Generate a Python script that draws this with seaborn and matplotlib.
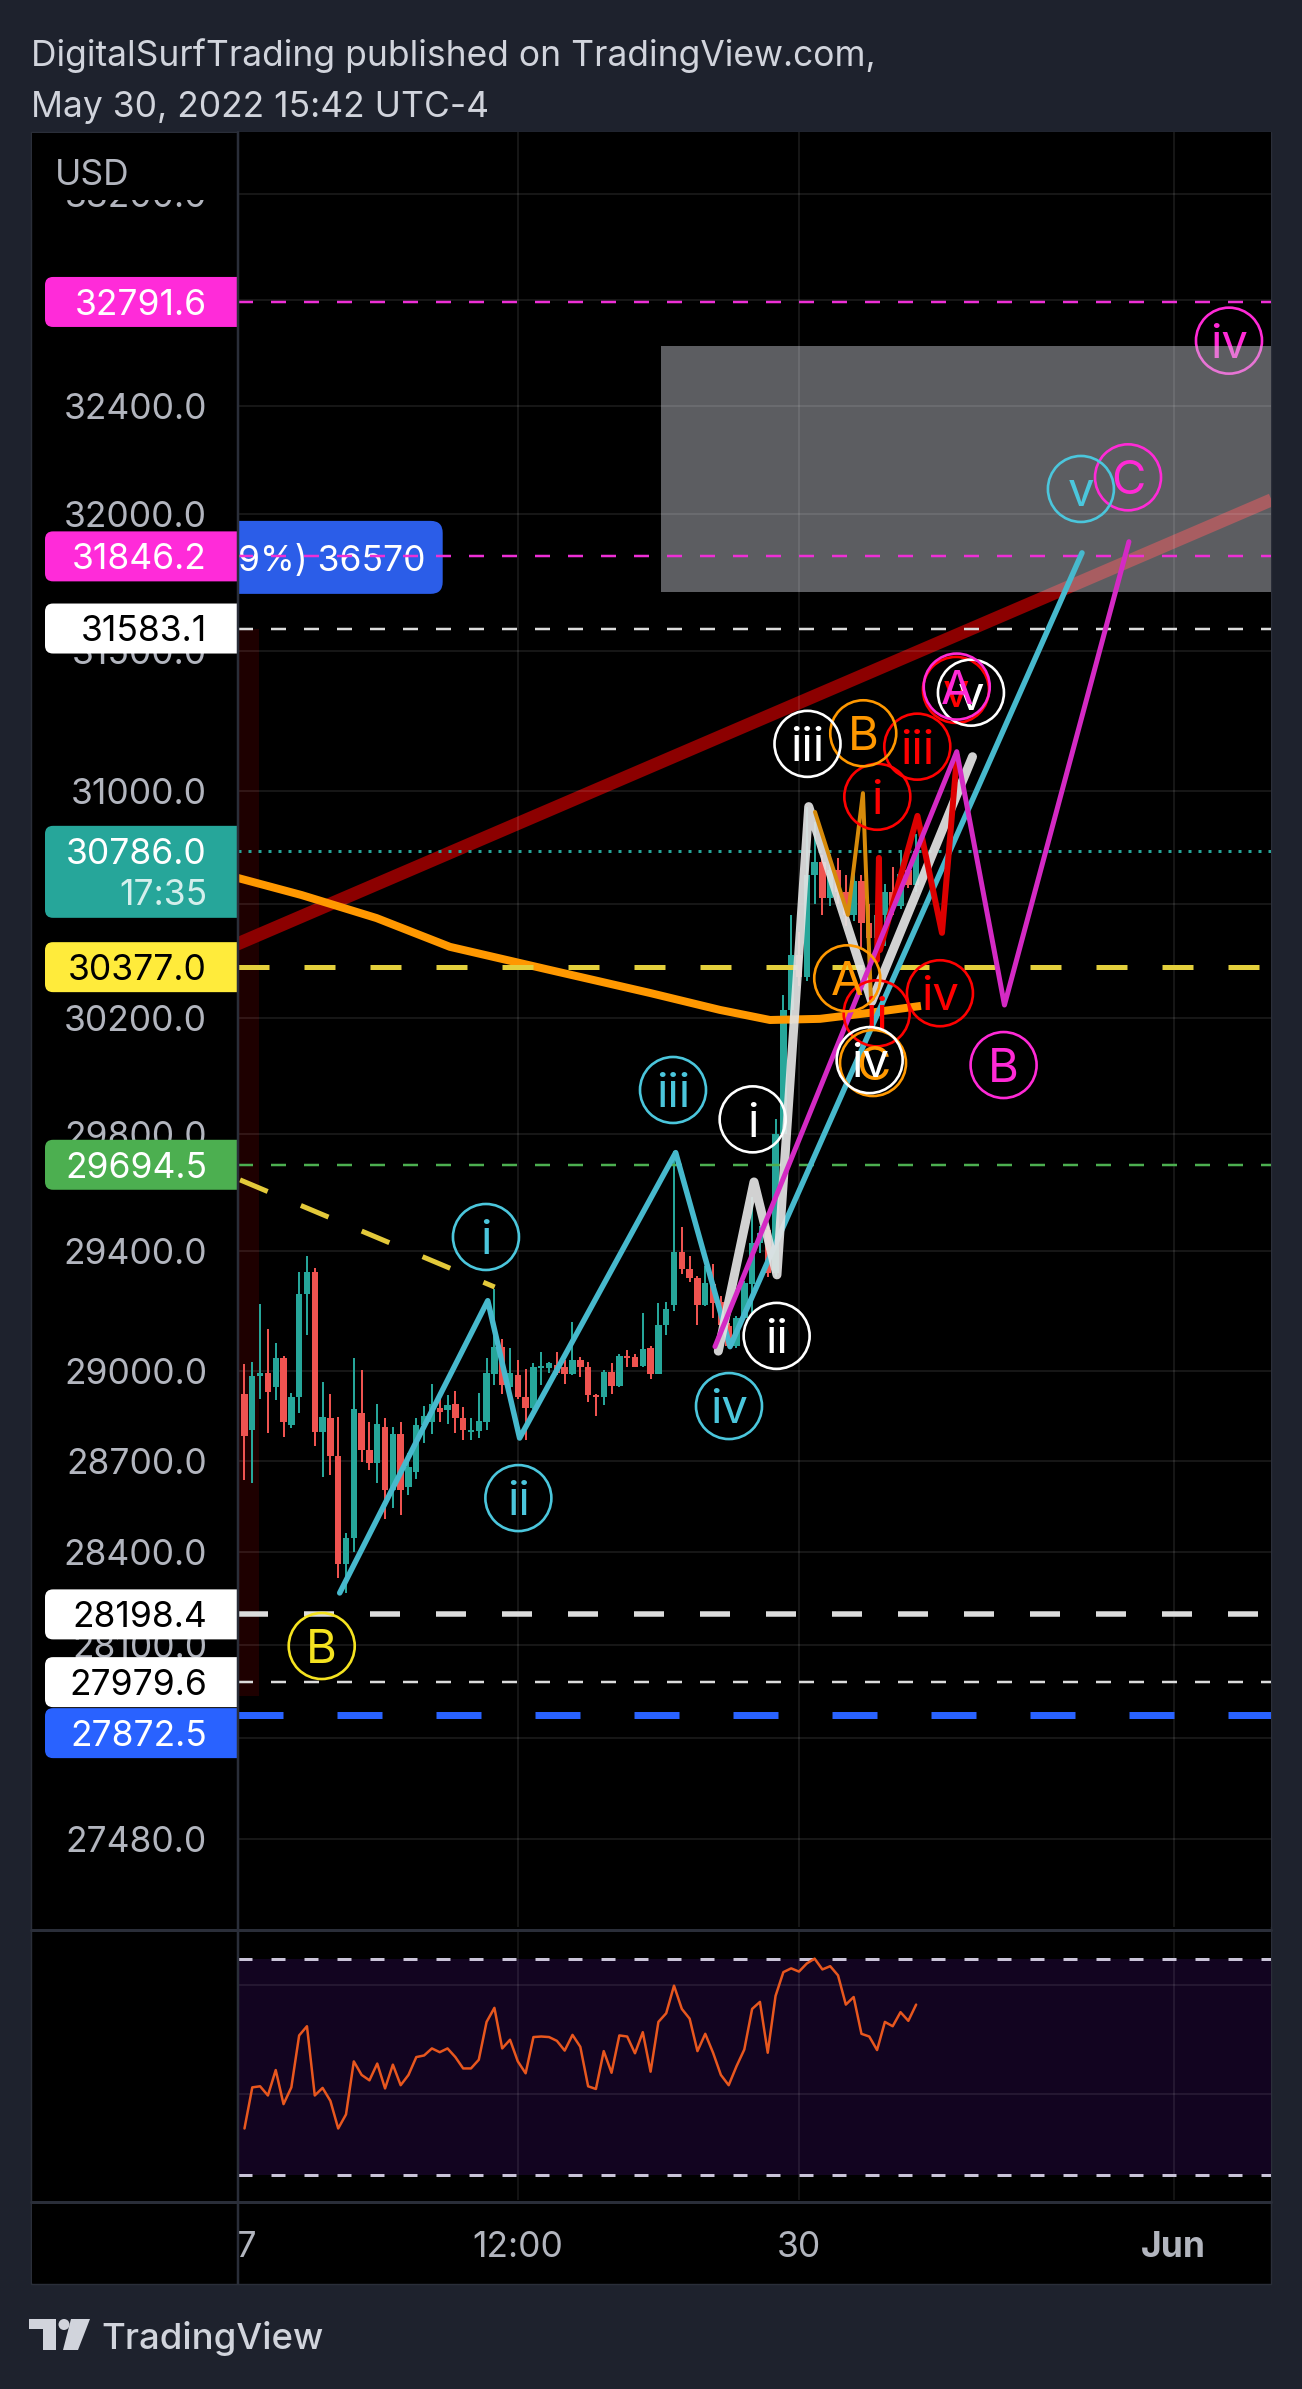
import numpy as np
import pandas as pd
import matplotlib
matplotlib.use("Agg")
import matplotlib.pyplot as plt
from matplotlib.patches import Rectangle, FancyBboxPatch, Circle, Polygon
from matplotlib.transforms import IdentityTransform, Bbox, blended_transform_factory
from matplotlib.lines import Line2D
from matplotlib.ticker import FixedLocator, NullLocator, FuncFormatter
import seaborn as sns

sns.set_theme(style="dark")
plt.rcParams['font.family'] = ['Inter', 'DejaVu Sans']
plt.rcParams['lines.scale_dashes'] = False
plt.rcParams['axes.unicode_minus'] = False

# ---------------- data ----------------
title_lines = ["DigitalSurfTrading published on TradingView.com,", "May 30, 2022 15:42 UTC-4"]
currency = "USD"
brand = "TradingView"

# hourly bars, x = hours after May 27 00:00
bar_hours = list(range(1, 88))
opens = [28922, 28802, 28983, 28991, 28946, 29041, 28819, 28911, 29257, 29330,
         28795, 28843, 28715, 28362, 28448, 28860, 28735, 28692, 28811, 28605,
         28790, 28614, 28665, 28818, 28829, 28874, 28869, 28888, 28843, 28796,
         28799, 28829, 28989, 29078, 28946, 28985, 28912, 28875, 29008, 29008,
         29019, 29011, 28988, 29036, 29013, 28920, 28912, 28994, 28948, 29050,
         29047, 29016, 29075, 28989, 29151, 29218, 29397, 29340, 29312, 29218,
         29290, 29229, 29148, 29081, 29177, 29290, 29428, 29473, 29327, 29800,
         30229, 30420, 30344, 30700, 30746, 30620, 30720, 30640, 30560, 30680,
         30530, 30480, 30560, 30640, 30590, 30720, 30665]
highs = [29022, 29028, 29224, 29138, 29093, 29050, 28927, 29330, 29386, 29343,
         28961, 28922, 28847, 28462, 29042, 29002, 28830, 28888, 28841, 28814,
         28828, 28726, 28841, 28883, 28955, 28916, 28918, 28931, 28880, 28843,
         28925, 29041, 29272, 29104, 29075, 29036, 29004, 29025, 29062, 29030,
         29061, 29036, 29162, 29047, 29030, 28923, 29002, 29025, 29056, 29070,
         29056, 29194, 29083, 29227, 29230, 29741, 29484, 29383, 29318, 29352,
         29358, 29250, 29160, 29182, 29300, 29586, 29485, 29485, 29850, 30281,
         30560, 30500, 30940, 30890, 30770, 30775, 30760, 30700, 30720, 30700,
         30600, 30600, 30670, 30730, 30790, 30730, 30847]
lows = [28638, 28627, 28905, 28793, 28903, 28780, 28810, 28860, 29120, 28751,
        28647, 28653, 28315, 28267, 28402, 28698, 28671, 28627, 28510, 28546,
        28524, 28589, 28640, 28760, 28788, 28829, 28823, 28793, 28769, 28769,
        28775, 28804, 28953, 28922, 28912, 28907, 28768, 28873, 28952, 28993,
        28985, 28957, 28985, 28980, 28895, 28848, 28884, 28923, 28946, 29011,
        29011, 29011, 28971, 28989, 29120, 29199, 29324, 29298, 29151, 29216,
        29177, 29137, 29075, 29075, 29170, 29192, 29395, 29315, 29315, 29780,
        30180, 30310, 30330, 30600, 30560, 30590, 30600, 30520, 30540, 30440,
        30360, 30400, 30450, 30560, 30580, 30655, 30640]
closes = [28782, 28983, 28991, 28930, 29041, 28829, 28911, 29257, 29330, 28795,
          28847, 28715, 28362, 28448, 28871, 28735, 28692, 28822, 28605, 28790,
          28603, 28679, 28818, 28849, 28888, 28862, 28885, 28841, 28802, 28802,
          28832, 28992, 29078, 28953, 28991, 28912, 28875, 29013, 29013, 29025,
          28991, 28989, 29036, 29011, 28918, 28912, 28997, 28948, 29050, 29042,
          29013, 29073, 28989, 29154, 29207, 29397, 29340, 29312, 29218, 29293,
          29227, 29154, 29081, 29177, 29293, 29428, 29462, 29327, 29800, 30229,
          30420, 30344, 30700, 30746, 30620, 30720, 30640, 30560, 30680, 30530,
          30480, 30560, 30640, 30590, 30705, 30665, 30786]
rsi_values = [38.6, 46.2, 46.4, 44.7, 49.4, 43.1, 46.2, 55.8, 57.5, 44.7,
              46.1, 43.7, 38.6, 41.2, 51.0, 48.5, 47.5, 50.6, 46.0, 50.4,
              46.6, 48.5, 51.8, 52.1, 53.4, 52.7, 53.4, 51.8, 49.7, 49.7,
              51.3, 58.3, 60.9, 53.4, 55.0, 51.0, 48.8, 55.5, 55.6, 55.5,
              54.8, 53.0, 55.9, 53.7, 46.4, 45.9, 52.9, 48.9, 55.8, 55.6,
              52.5, 56.4, 49.1, 58.3, 59.9, 65.0, 60.7, 58.9, 52.9, 56.1,
              52.6, 48.5, 46.6, 50.1, 53.2, 60.7, 62.0, 52.6, 63.1, 67.5,
              68.2, 67.6, 69.1, 70.0, 68.0, 68.6, 66.9, 61.5, 62.9, 56.1,
              55.6, 53.1, 58.3, 57.5, 60.1, 58.5, 61.5]

price_ticks = [33200, 32800, 32400, 32000, 31500, 31000, 30600, 30200, 29800,
               29400, 29000, 28700, 28400, 28100, 27800, 27480]
time_ticks = [0, 36, 72, 120]
time_labels = ["27", "12:00", "30", "Jun"]
rsi_bands = [70, 30]
rsi_grid = [65.1, 45.0]

level_values = [32791.6, 31846.2, 31583.1, 30786.0, 30377.0, 29694.5, 28198.4, 27979.6, 27872.5]
countdown = "17:35"
measure_text = "9%) 36570"

ema_hours = [0.17, 8.3, 17.9, 27.31, 40.12, 52.92, 61.88, 68.29, 74.69, 81.09, 87.62]
ema_values = [30690, 30630, 30549, 30448, 30367, 30287, 30228, 30193, 30197, 30218, 30242]

trend_hours = [0.0, 132.5]
trend_prices = [30457, 32054]
yellow_trend_hours = [0.43, 33.04]
yellow_trend_prices = [29643, 29280]

zone_hours = [54.33, 140.0]
zone_prices = [31716, 32626]
session_hours = [-3.0, 2.86]
session_prices = [27935, 31583.1]

cyan_wave_hours = [13.19, 32.15, 36.23, 56.21, 63.17, 108.24]
cyan_wave_prices = [28268, 29234, 28776, 29736, 29080, 31859]
white_wave_hours = [61.67, 66.24, 69.18, 73.25, 81.32, 94.22]
white_wave_prices = [29065, 29636, 29321, 30943, 30257, 31121]
magenta_wave_hours = [61.24, 92.2, 98.31, 114.25]
magenta_wave_prices = [29080, 31139, 30245, 31900]
orange_wave_hours = [74.05, 78.27, 80.19, 81.22]
orange_wave_prices = [30924, 30560, 30991, 30263]
red_wave_hours = [81.99, 82.24, 82.37, 87.17, 90.31, 92.23]
red_wave_prices = [30402, 30761, 30437, 30910, 30497, 31124]

cyan_labels = [("i", 31.92, 29449), ("ii", 36.07, 28578), ("iii", 55.87, 29951),
               ("iv", 63.04, 28882), ("v", 108.1, 32094)]
white_labels = [("i", 66.07, 29850), ("ii", 69.14, 29116), ("iii", 73.09, 31167),
                ("iv", 81.05, 30054), ("v", 94.02, 31351)]
orange_labels = [("A", 78.18, 30338), ("B", 80.23, 31205), ("C", 81.48, 30044)]
red_labels = [("i", 82.03, 30978), ("ii", 81.95, 30216), ("iii", 87.15, 31157),
              ("iv", 90.05, 30286), ("v", 92.1, 31361)]
magenta_labels = [("A", 92.2, 31373), ("B", 98.2, 30037), ("C", 114.13, 32137)]
magenta_far_labels = [("iv", 127.06, 32646)]
yellow_labels = [("B", 10.89, 28096)]

x_range = (0.17, 132.44)
price_range = (27202.8, 33438.7)
rsi_range = (25.38, 74.92)

# ---------------- styling ----------------
W, H = 1302, 2389
PT = 0.72                    # points per pixel at 100 dpi
BG = '#1e222d'
BORDER = '#2a2e39'
AXIS_TXT = '#b2b5be'
TEAL, RED = '#26a69a', '#ef5350'
LABEL_FS = 25.5
CIRCLE_FS = 34
IDT = IdentityTransform()


def cap(fs):
    return 0.727 * fs / PT


def img_rect(x0, y0, x1, y1, **kw):
    return Rectangle((x0, H - y1), x1 - x0, y1 - y0, transform=IDT, **kw)


PANEL_L, PANEL_R, PANEL_T, PANEL_B = 31, 1271, 132, 2284
PLOT_L = 238
MAIN_B = 1927
RSI_T, RSI_B = 1932, 2200
TIME_BASELINE = 2257

fig = plt.figure(figsize=(W / 100, H / 100), dpi=100)
fig.patch.set_facecolor(BG)
fig.add_artist(img_rect(PANEL_L, PANEL_T, PANEL_R, PANEL_B, facecolor='black',
                        edgecolor=BORDER, linewidth=1.0, zorder=-1))

# ---------------- main price pane ----------------
ax = fig.add_axes([PLOT_L / W, 1 - MAIN_B / H, (PANEL_R - PLOT_L) / W, (MAIN_B - PANEL_T) / H])
ax.set_facecolor('black')
ax.set_yscale('log')
ax.set_xlim(x_range)
ax.set_ylim(price_range)
ax.set_autoscale_on(False)
for s in ax.spines.values():
    s.set_visible(False)
ax.yaxis.set_major_locator(FixedLocator(price_ticks))
ax.yaxis.set_minor_locator(NullLocator())
ax.yaxis.set_major_formatter(FuncFormatter(lambda v, p: f"{v:.1f}"))
ax.xaxis.set_major_locator(FixedLocator(time_ticks))
ax.xaxis.set_minor_locator(NullLocator())
ax.tick_params(axis='x', labelbottom=False, length=0)
ax.tick_params(axis='y', length=0, pad=22.3, labelsize=LABEL_FS, labelcolor=AXIS_TXT)
ax.grid(True, color='white', alpha=0.09, linewidth=1.5)
ax.set_axisbelow(False)

# session box and zone
ax.add_patch(Rectangle((session_hours[0], session_prices[0]), session_hours[1] - session_hours[0],
                       session_prices[1] - session_prices[0], facecolor='#1e0000',
                       edgecolor='none', zorder=1))
ax.plot(trend_hours, trend_prices, color='#8c0000', lw=13 * PT, solid_capstyle='butt', zorder=2.2)
ax.add_patch(Rectangle((zone_hours[0], zone_prices[0]), zone_hours[1] - zone_hours[0],
                       zone_prices[1] - zone_prices[0], facecolor='#cbcdd4', alpha=0.46,
                       edgecolor='none', zorder=2.4))

# horizontal price lines
line_colors = ['#ee2fd6', '#ee2fd6', '#dcdcdc', '#26a69a', '#e3cf3c', '#4caf50', '#dcdcdc', '#dcdcdc', '#2962ff']
line_widths = [2.5, 2.5, 2.5, 3, 5, 2.5, 5.5, 2.5, 7]
line_dashes = [(15, 18), (15, 18), (15, 18), (3, 7), (31, 35), (15, 18), (30, 36), (15, 18), (45, 54)]
for v, c, w, d in zip(level_values, line_colors, line_widths, line_dashes):
    ax.axhline(v, color=c, lw=w * PT, ls=(0, (d[0] * PT, d[1] * PT)), zorder=5.0)

# measurement tag (clipped at the pane's left edge)
yb = H - ax.transData.transform((x_range[0], level_values[1]))[1] + 1
ax.add_patch(FancyBboxPatch((150, H - (yb + 36.5)), 442.7 - 150, 73,
                            boxstyle='round,pad=0,rounding_size=12', transform=IDT,
                            facecolor='#2b5de8', edgecolor='none', zorder=3.8))
ax.text(425, H - (yb + cap(LABEL_FS) / 2 + 1), measure_text, transform=IDT, ha='right',
        va='baseline', color='white', fontsize=LABEL_FS, zorder=3.9, clip_on=True)

# candles
df = pd.DataFrame({'hour': bar_hours, 'open': opens, 'high': highs, 'low': lows, 'close': closes})
up = df['close'] >= df['open']
ccols = np.where(up, TEAL, RED)
ax.vlines(df['hour'], df['low'], df['high'], colors=ccols, lw=2 * PT, zorder=4.6)
body_lo = df[['open', 'close']].min(axis=1)
body_h = (df['close'] - df['open']).abs().clip(lower=6)
ax.bar(df['hour'], body_h, bottom=body_lo, width=0.82, color=ccols, linewidth=0, zorder=4.7)

# EMA
sns.lineplot(x=ema_hours, y=ema_values, ax=ax, color='#ff9800', linewidth=8 * PT,
             sort=False, estimator=None, errorbar=None, zorder=4.8, solid_capstyle='butt')

# yellow dashed trend
ax.plot(yellow_trend_hours, yellow_trend_prices, color='#e3c93a', lw=5 * PT,
        ls=(0, (30 * PT, 36 * PT)), zorder=5.5)

# wave paths
waves = [
    (cyan_wave_hours, cyan_wave_prices, '#47b9cd', 5.5, 6.0, 1.0),
    (white_wave_hours, white_wave_prices, '#e4e4e4', 9, 6.1, 0.92),
    (orange_wave_hours, orange_wave_prices, '#d68a0a', 4, 6.2, 1.0),
    (red_wave_hours, red_wave_prices, '#dd0000', 6, 6.3, 1.0),
    (magenta_wave_hours, magenta_wave_prices, '#d42ac4', 5, 6.4, 1.0),
]
for hx, py, col, w, z, a in waves:
    sns.lineplot(x=hx, y=py, ax=ax, color=col, linewidth=w * PT, sort=False, estimator=None,
                 errorbar=None, zorder=z, alpha=a, solid_capstyle='round', solid_joinstyle='round')

# circled wave labels
CIRCLE_S = (66 * PT) ** 2


def wave_labels(items, color, z):
    hs = [h for _, h, _ in items]
    ps = [p for _, _, p in items]
    ax.scatter(hs, ps, s=CIRCLE_S, facecolors='none', edgecolors=color, linewidths=1.9, zorder=z)
    for t, h, p in items:
        ax.annotate(t, (h, p), xytext=(0, -0.727 * CIRCLE_FS / 2), textcoords='offset points',
                    ha='center', va='baseline', color=color, fontsize=CIRCLE_FS, zorder=z + 0.01,
                    annotation_clip=False)


wave_labels(magenta_far_labels, '#ff2ad6', 2.3)
wave_labels(red_labels, '#ff0000', 7.0)
wave_labels(orange_labels, '#ff9800', 7.1)
wave_labels(white_labels, '#ffffff', 7.2)
wave_labels(magenta_labels, '#ff2ad6', 7.3)
wave_labels(cyan_labels, '#4bc6dc', 7.4)
wave_labels(yellow_labels, '#f5e320', 7.5)
ax.set_xlabel('')
ax.set_ylabel('')

# ---------------- RSI pane ----------------
ax2 = fig.add_axes([PLOT_L / W, 1 - RSI_B / H, (PANEL_R - PLOT_L) / W, (RSI_B - RSI_T) / H])
ax2.set_facecolor('black')
ax2.set_xlim(x_range)
ax2.set_ylim(rsi_range)
ax2.set_autoscale_on(False)
for s in ax2.spines.values():
    s.set_visible(False)
ax2.yaxis.set_major_locator(FixedLocator(rsi_grid))
ax2.tick_params(axis='y', labelleft=False, length=0)
ax2.xaxis.set_major_locator(FixedLocator(time_ticks))
ax2.tick_params(axis='x', labelbottom=False, length=0)
ax2.grid(True, color='white', alpha=0.08, linewidth=1.5)
ax2.set_axisbelow(False)
ax2.axhspan(rsi_bands[1], rsi_bands[0], color='#120420', zorder=0.5, linewidth=0)
for b in rsi_bands:
    ax2.axhline(b, color='#c9c3d8', lw=3 * PT, ls=(0, (14 * PT, 19 * PT)), zorder=3)
sns.lineplot(x=bar_hours, y=rsi_values, ax=ax2, color='#e8571e', linewidth=2.5 * PT,
             sort=False, estimator=None, errorbar=None, zorder=4)
ax2.set_xlabel('')
ax2.set_ylabel('')

# time-axis labels (x from the data scale, baseline in the time strip)
time_tr = blended_transform_factory(ax2.transData, IDT)
for tv, tl in zip(time_ticks, time_labels):
    ax2.text(tv, H - TIME_BASELINE, tl, transform=time_tr, ha='center', va='baseline',
             fontsize=LABEL_FS, color=AXIS_TXT, clip_on=False,
             fontweight='bold' if tl == 'Jun' else 'normal')

# ---------------- price-scale tags ----------------
tag_bg = ['#ff2bd9', '#ff2bd9', '#ffffff', '#26a69a', '#ffeb3b', '#4caf50', '#ffffff', '#ffffff', '#2962ff']
tag_fg = ['white', 'white', 'black', 'white', 'black', 'white', 'black', 'black', 'white']
current_idx = 3
order = np.argsort(level_values)[::-1]
prev_bottom = -1e9
for i in order:
    v = level_values[i]
    y_img = H - ax.transData.transform((x_range[0], v))[1]
    hgt = 92 if i == current_idx else 50
    top = max(y_img - 25, prev_bottom + 1)
    bottom = top + hgt
    prev_bottom = bottom
    box = FancyBboxPatch((45, H - bottom), 210, hgt, boxstyle='round,pad=0,rounding_size=8',
                         transform=IDT, facecolor=tag_bg[i], edgecolor='none', zorder=1.2)
    box.set_clip_box(Bbox.from_extents(0, 0, PLOT_L, H))
    fig.add_artist(box)
    fig.text(207, H - (top + 25 + cap(LABEL_FS) / 2), f"{v:.1f}", transform=IDT, ha='right',
             va='baseline', fontsize=LABEL_FS, color=tag_fg[i], zorder=1.3)
    if i == current_idx:
        fig.text(207, H - (top + 66 + cap(LABEL_FS) / 2), countdown, transform=IDT, ha='right',
                 va='baseline', fontsize=LABEL_FS, color='#d4efec', zorder=1.3)

# covers (header strip of price scale, hidden part of first date label)
fig.add_artist(img_rect(PANEL_L + 1, PANEL_T + 1, PLOT_L - 1, 200, facecolor='black', edgecolor='none', zorder=1.0))
fig.add_artist(img_rect(PANEL_L + 1, RSI_B + 2, PLOT_L - 1, PANEL_B - 1, facecolor='black', edgecolor='none', zorder=1.0))
fig.text(55, H - 185, currency, transform=IDT, ha='left', va='baseline', fontsize=LABEL_FS,
         color=AXIS_TXT, zorder=1.4)

# pane borders
fig.add_artist(Line2D([PLOT_L, PLOT_L], [H - PANEL_T, H - PANEL_B], transform=IDT, color=BORDER,
                      lw=2.5 * PT, zorder=2))
for yy in (1930, 2201.5):
    fig.add_artist(Line2D([PANEL_L, PANEL_R], [H - yy, H - yy], transform=IDT, color=BORDER,
                          lw=3 * PT, zorder=2))

# title and branding
fig.text(31, H - 66, title_lines[0], transform=IDT, ha='left', va='baseline', fontsize=25.5,
         color='#d1d4dc', zorder=3)
fig.text(31, H - 117, title_lines[1], transform=IDT, ha='left', va='baseline', fontsize=25.5,
         color='#d1d4dc', zorder=3)
logo_c = '#d1d4dc'
fig.add_artist(img_rect(29, 2319, 56, 2329, facecolor=logo_c, edgecolor='none', zorder=3))
fig.add_artist(img_rect(43, 2319, 56, 2350, facecolor=logo_c, edgecolor='none', zorder=3))
fig.add_artist(Circle((64, H - 2324.5), 5.5, transform=IDT, facecolor=logo_c, edgecolor='none', zorder=3))
fig.add_artist(Polygon([(71, H - 2319), (90, H - 2319), (78, H - 2350), (63, H - 2350)],
                       closed=True, transform=IDT, facecolor=logo_c, edgecolor='none', zorder=3))
fig.text(101, H - 2349, brand, transform=IDT, ha='left', va='baseline', fontsize=26.3,
         fontweight='medium', color=logo_c, zorder=3)

fig.savefig('out.png', dpi=100, facecolor=BG)
